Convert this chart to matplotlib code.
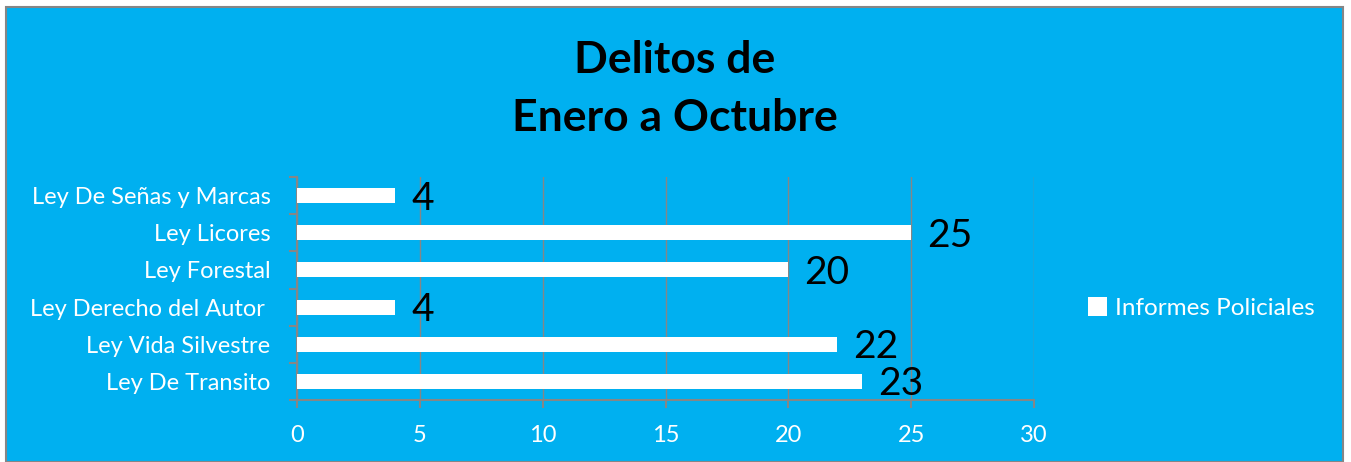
import numpy as np
import matplotlib
matplotlib.use("Agg")
import matplotlib.pyplot as plt
from matplotlib.patches import Rectangle
from matplotlib.ticker import MultipleLocator

plt.rcParams['font.family'] = ['Lato', 'DejaVu Sans']

categorias = ["Ley De Transito", "Ley Vida Silvestre", "Ley Derecho del Autor ",
              "Ley Forestal", "Ley Licores", "Ley De Señas y Marcas"]
valores = [23, 22, 4, 20, 25, 4]
serie = "Informes Policiales"
titulo = "Delitos de\nEnero a Octubre"

azul = "#00B0F0"
gris = "#868686"

W, H = 1351, 462
fig = plt.figure(figsize=(W / 100, H / 100), dpi=100, facecolor="white")

# chart area frame
fig.patches.append(Rectangle((6 / W, 0), (1343 - 6) / W, (H - 7) / H,
                             transform=fig.transFigure, facecolor=azul,
                             edgecolor=gris, linewidth=1.5, zorder=-5))

ax = fig.add_axes([297 / W, 62 / H, (1034 - 297) / W, (400 - 177) / H])
ax.set_zorder(2)
ax.set_facecolor("none")

y = np.arange(len(categorias))
bars = ax.barh(y, valores, height=0.4, color="white", label=serie, zorder=3)

for yi, v in zip(y, valores):
    ax.text(v + 0.65, yi - 0.08, str(v), fontsize=28, color="black",
            va="center", ha="left", zorder=4)

ax.set_xlim(0, 30)
ax.set_ylim(-0.5, len(categorias) - 0.5)
ax.xaxis.set_major_locator(MultipleLocator(5))
ax.set_yticks(y)
ax.set_yticklabels(categorias)
ax.set_yticks(np.arange(len(categorias) + 1) - 0.5, minor=True)

ax.grid(axis="x", color=gris, linewidth=1, zorder=1)
for s in ["top", "right"]:
    ax.spines[s].set_visible(False)
for s in ["left", "bottom"]:
    ax.spines[s].set_color(gris)
    ax.spines[s].set_linewidth(1.5)

ax.tick_params(axis="x", colors=gris, length=6, width=1.5, direction="out",
               labelcolor="white", labelsize=17, pad=12)
ax.tick_params(axis="y", which="major", length=0, labelcolor="white",
               labelsize=17, pad=19)
ax.tick_params(axis="y", which="minor", colors=gris, length=6, width=1.5,
               direction="out")

fig.text(675 / W, 1 - 89 / H, titulo, ha="center", va="center", fontsize=32,
         fontweight="bold", color="black", linespacing=1.55, zorder=3)

leg = fig.legend(handles=[bars], labels=[serie], loc="center left",
                 bbox_to_anchor=(1066 / W, 1 - 308 / H), frameon=False,
                 fontsize=17.5, labelcolor="white", handlelength=0.8,
                 handleheight=0.8, handletextpad=0.3)

fig.savefig("out.png", dpi=100, facecolor="white")
